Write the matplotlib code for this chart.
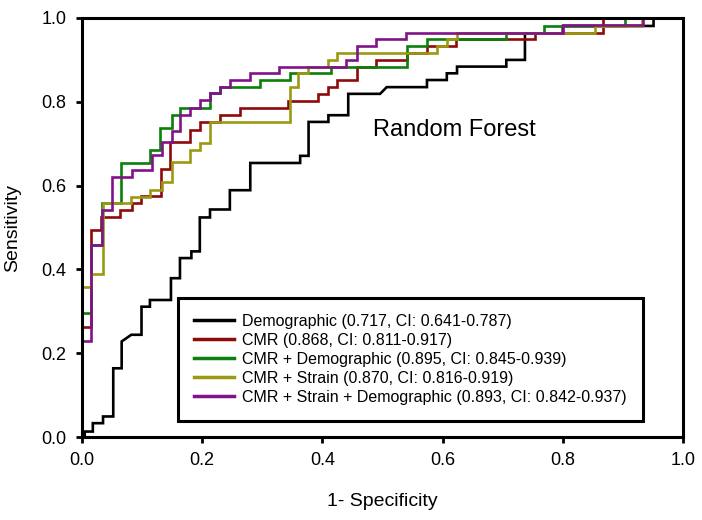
import matplotlib
matplotlib.use("Agg")
import matplotlib.pyplot as plt

plt.rcParams['font.family'] = ['Liberation Sans', 'DejaVu Sans']

# ---- data (ROC vertices) ----
demo_fpr = [0, 0.0045, 0.0045, 0.018, 0.018, 0.035, 0.035, 0.052, 0.052, 0.066, 0.066, 0.082,
            0.099, 0.099, 0.113, 0.113, 0.148, 0.148, 0.163, 0.163, 0.182, 0.182, 0.196, 0.196,
            0.213, 0.213, 0.246, 0.246, 0.280, 0.280, 0.363, 0.363, 0.377, 0.377, 0.410, 0.410,
            0.443, 0.443, 0.496, 0.507, 0.574, 0.574, 0.607, 0.607, 0.624, 0.624, 0.706, 0.706,
            0.737, 0.737, 0.800, 0.800, 0.951, 0.951, 1.0]
demo_tpr = [0, 0, 0.013, 0.013, 0.033, 0.033, 0.049, 0.049, 0.164, 0.164, 0.228, 0.244,
            0.244, 0.311, 0.311, 0.327, 0.327, 0.379, 0.379, 0.427, 0.427, 0.443, 0.443, 0.524,
            0.524, 0.543, 0.543, 0.589, 0.589, 0.654, 0.654, 0.671, 0.671, 0.752, 0.752, 0.768,
            0.768, 0.819, 0.819, 0.835, 0.835, 0.852, 0.852, 0.868, 0.868, 0.884, 0.884, 0.900,
            0.900, 0.963, 0.963, 0.981, 0.981, 1.0, 1.0]

cmr_fpr = [0, 0, 0.015, 0.015, 0.032, 0.032, 0.064, 0.064, 0.083, 0.083, 0.099, 0.099,
           0.132, 0.132, 0.146, 0.146, 0.180, 0.180, 0.196, 0.196, 0.230, 0.230, 0.263, 0.263,
           0.343, 0.343, 0.393, 0.393, 0.410, 0.410, 0.424, 0.424, 0.457, 0.457, 0.490, 0.490,
           0.540, 0.540, 0.574, 0.574, 0.623, 0.623, 0.754, 0.754, 0.867, 0.867, 1.0]
cmr_tpr = [0, 0.263, 0.263, 0.494, 0.494, 0.526, 0.526, 0.542, 0.542, 0.558, 0.558, 0.574,
           0.574, 0.639, 0.639, 0.705, 0.705, 0.733, 0.733, 0.752, 0.752, 0.768, 0.768, 0.786,
           0.786, 0.802, 0.802, 0.818, 0.818, 0.836, 0.836, 0.852, 0.852, 0.884, 0.884, 0.900,
           0.900, 0.916, 0.916, 0.932, 0.932, 0.949, 0.949, 0.965, 0.965, 1.0, 1.0]

cmrdemo_fpr = [0, 0, 0.015, 0.015, 0.033, 0.033, 0.0654, 0.0654, 0.1126, 0.1126, 0.130, 0.130,
               0.149, 0.149, 0.163, 0.163, 0.213, 0.213, 0.230, 0.230, 0.296, 0.296, 0.3453,
               0.3453, 0.4145, 0.4145, 0.540, 0.540, 0.574, 0.574, 0.706, 0.706, 0.768, 0.768,
               0.903, 0.903, 1.0]
cmrdemo_tpr = [0, 0.295, 0.295, 0.458, 0.458, 0.558, 0.558, 0.655, 0.655, 0.684, 0.684, 0.737,
               0.737, 0.7685, 0.7685, 0.786, 0.786, 0.820, 0.820, 0.836, 0.836, 0.852, 0.852,
               0.868, 0.868, 0.884, 0.884, 0.933, 0.933, 0.949, 0.949, 0.965, 0.965, 0.981,
               0.981, 1.0, 1.0]

strain_fpr = [0, 0, 0.015, 0.015, 0.035, 0.035, 0.082, 0.082, 0.1126, 0.1126, 0.1326, 0.1326,
              0.149, 0.149, 0.180, 0.180, 0.196, 0.196, 0.213, 0.213, 0.3455, 0.3455, 0.360,
              0.360, 0.376, 0.376, 0.4096, 0.4096, 0.424, 0.424, 0.5905, 0.5905, 0.607, 0.607,
              0.624, 0.624, 0.854, 0.854, 0.932, 0.932, 1.0]
strain_tpr = [0, 0.359, 0.359, 0.390, 0.390, 0.558, 0.558, 0.573, 0.573, 0.589, 0.589, 0.609,
              0.609, 0.657, 0.657, 0.684, 0.684, 0.701, 0.701, 0.752, 0.752, 0.836, 0.836,
              0.868, 0.868, 0.884, 0.884, 0.900, 0.900, 0.916, 0.916, 0.933, 0.933, 0.949,
              0.949, 0.965, 0.965, 0.981, 0.981, 1.0, 1.0]

all_fpr = [0, 0, 0.015, 0.015, 0.033, 0.033, 0.050, 0.050, 0.083, 0.083, 0.116, 0.116,
           0.1326, 0.1326, 0.149, 0.149, 0.163, 0.163, 0.180, 0.180, 0.196, 0.196, 0.213,
           0.213, 0.2296, 0.2296, 0.246, 0.246, 0.2795, 0.2795, 0.328, 0.328, 0.440, 0.440,
           0.457, 0.457, 0.490, 0.490, 0.539, 0.539, 0.800, 0.800, 0.934, 0.934, 1.0]
all_tpr = [0, 0.230, 0.230, 0.458, 0.458, 0.541, 0.541, 0.621, 0.621, 0.637, 0.637, 0.672,
           0.672, 0.705, 0.705, 0.730, 0.730, 0.7685, 0.7685, 0.7845, 0.7845, 0.804, 0.804,
           0.822, 0.822, 0.836, 0.836, 0.852, 0.852, 0.868, 0.868, 0.884, 0.884, 0.900,
           0.900, 0.933, 0.933, 0.949, 0.949, 0.965, 0.965, 0.983, 0.983, 1.0, 1.0]

labels = [
    "Demographic (0.717, CI: 0.641-0.787)",
    "CMR (0.868, CI: 0.811-0.917)",
    "CMR + Demographic (0.895, CI: 0.845-0.939)",
    "CMR + Strain (0.870, CI: 0.816-0.919)",
    "CMR + Strain + Demographic (0.893, CI: 0.842-0.937)",
]
colors = ['#000000', '#8E0A0A', '#0B800B', '#9A9A12', '#82128A']
ticks = [0.0, 0.2, 0.4, 0.6, 0.8, 1.0]
tick_labels = ['0.0', '0.2', '0.4', '0.6', '0.8', '1.0']

series = [(demo_fpr, demo_tpr), (cmr_fpr, cmr_tpr), (cmrdemo_fpr, cmrdemo_tpr),
          (strain_fpr, strain_tpr), (all_fpr, all_tpr)]

fig = plt.figure(figsize=(7.02, 5.20), dpi=100)
ax = fig.add_axes([82 / 702, 1 - 437 / 520, 601 / 702, 419 / 520])

for (fx, ty), lab, col in zip(series, labels, colors):
    ax.plot(fx, ty, color=col, lw=1.9, label=lab, solid_joinstyle='miter')

ax.set_xlim(0, 1)
ax.set_ylim(0, 1)
ax.set_xticks(ticks)
ax.set_xticklabels(tick_labels)
ax.set_yticks(ticks)
ax.set_yticklabels(tick_labels)
ax.tick_params(direction='out', length=4, width=2, labelsize=13, pad=7)
for s in ax.spines.values():
    s.set_linewidth(2.2)

ax.set_xlabel("1- Specificity", fontsize=14, labelpad=17)
ax.set_ylabel("Sensitivity", fontsize=14, labelpad=15)

ax.text(0.484, 0.718, "Random Forest", fontsize=17, ha='left', va='baseline')

leg = ax.legend(loc='upper left', bbox_to_anchor=(0.16, 0.332), borderaxespad=0,
                fontsize=11.5, handlelength=2.5, handletextpad=0.5, labelspacing=0.25,
                borderpad=1.0, fancybox=False, framealpha=1, edgecolor='black')
leg.get_frame().set_linewidth(2.2)
for h in leg.get_lines():
    h.set_linewidth(2.5)

fig.savefig("out.png", dpi=100)
